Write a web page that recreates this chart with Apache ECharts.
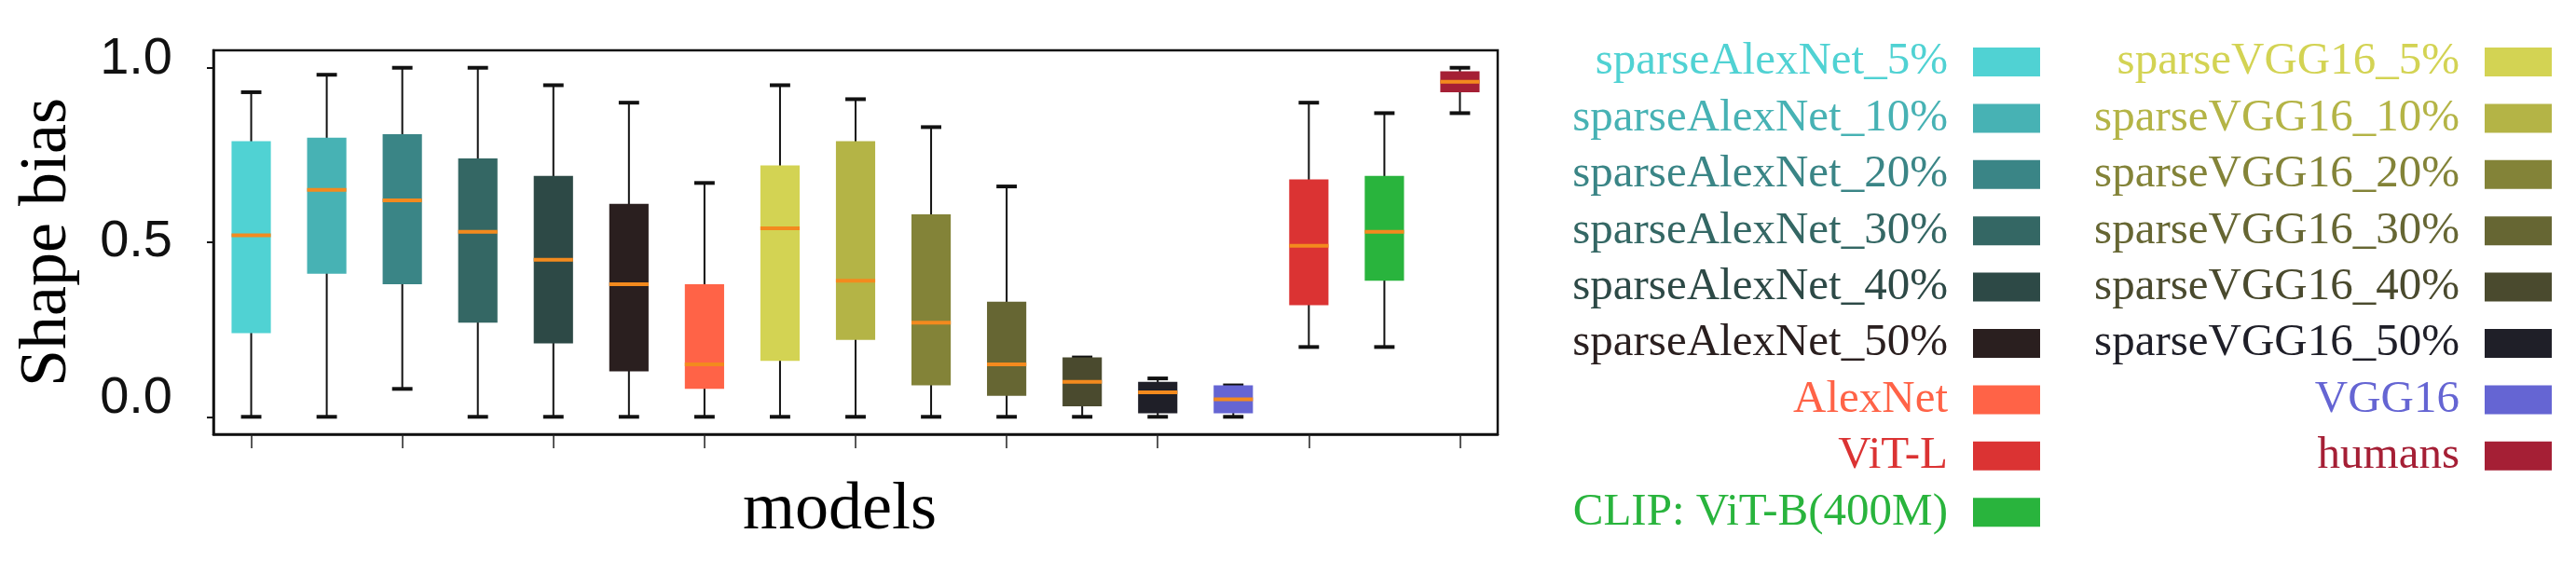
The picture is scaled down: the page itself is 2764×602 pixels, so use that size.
<!DOCTYPE html>
<html>
<head>
<meta charset="utf-8">
<title>Shape bias</title>
<script src="https://cdn.jsdelivr.net/npm/echarts@6/dist/echarts.min.js"></script>
<style>
  html, body { margin: 0; padding: 0; background: #fff; }
  #chart { width: 2764px; height: 602px; }
</style>
</head>
<body>
<div id="chart"></div>
<script>
'use strict';

// model names, in x order
var models = [
  'sparseAlexNet_5%', 'sparseAlexNet_10%', 'sparseAlexNet_20%', 'sparseAlexNet_30%',
  'sparseAlexNet_40%', 'sparseAlexNet_50%', 'AlexNet',
  'sparseVGG16_5%', 'sparseVGG16_10%', 'sparseVGG16_20%', 'sparseVGG16_30%',
  'sparseVGG16_40%', 'sparseVGG16_50%', 'VGG16',
  'ViT-L', 'CLIP: ViT-B(400M)', 'humans'
];
var colors = [
  '#50d2d3', '#47b2b4', '#3a8586', '#346764', '#2d4946', '#2a1f1f', '#ff6347',
  '#d3d353', '#b4b446', '#838338', '#666633', '#4a4a2e', '#1f1f28', '#6565d3',
  '#db3333', '#29b43d', '#a51f35'
];

// box statistics
var whiskerLow  = [0.00, 0.00, 0.08, 0.00, 0.00, 0.00, 0.00, 0.00, 0.00, 0.00, 0.00, 0.00, 0.00, 0.00, 0.20, 0.20, 0.87];
var q1          = [0.24, 0.41, 0.38, 0.27, 0.21, 0.13, 0.08, 0.16, 0.22, 0.09, 0.06, 0.03, 0.01, 0.01, 0.32, 0.39, 0.93];
var median      = [0.52, 0.65, 0.62, 0.53, 0.45, 0.38, 0.15, 0.54, 0.39, 0.27, 0.15, 0.10, 0.07, 0.05, 0.49, 0.53, 0.96];
var q3          = [0.79, 0.80, 0.81, 0.74, 0.69, 0.61, 0.38, 0.72, 0.79, 0.58, 0.33, 0.17, 0.10, 0.09, 0.68, 0.69, 0.99];
var whiskerHigh = [0.93, 0.98, 1.00, 1.00, 0.95, 0.90, 0.67, 0.95, 0.91, 0.83, 0.66, 0.17, 0.11, 0.09, 0.90, 0.87, 1.00];

var yTicks = [0, 0.5, 1.0];

// legend columns (indices into models)
var legendLeft = [0, 1, 2, 3, 4, 5, 6, 14, 15];
var legendRight = [7, 8, 9, 10, 11, 12, 13, 16];

var serif = '"Liberation Serif", "Times New Roman", serif';
var sans = '"Liberation Sans", Arial, sans-serif';

//draw one box: whiskers, caps, box and median
function renderBox(params, api) {
  var i = api.value(0);
  var lo = api.coord([i, api.value(1)]);
  var b1 = api.coord([i, api.value(2)]);
  var md = api.coord([i, api.value(3)]);
  var b3 = api.coord([i, api.value(4)]);
  var hi = api.coord([i, api.value(5)]);
  var band = api.size([1, 0])[0];
  var boxW = band * 0.52;
  var capW = band * 0.27;
  var x = md[0];
  var ink = '#111';
  return {
    type: 'group',
    children: [
      { type: 'line', shape: { x1: x, y1: hi[1], x2: x, y2: lo[1] }, style: { stroke: ink, lineWidth: 2 } },
      { type: 'line', shape: { x1: x - capW / 2, y1: hi[1], x2: x + capW / 2, y2: hi[1] }, style: { stroke: ink, lineWidth: 4 } },
      { type: 'line', shape: { x1: x - capW / 2, y1: lo[1], x2: x + capW / 2, y2: lo[1] }, style: { stroke: ink, lineWidth: 4 } },
      { type: 'rect', shape: { x: x - boxW / 2, y: b3[1], width: boxW, height: b1[1] - b3[1] }, style: { fill: api.visual('color') } },
      { type: 'line', shape: { x1: x - boxW / 2, y1: md[1], x2: x + boxW / 2, y2: md[1] }, style: { stroke: '#f38a1e', lineWidth: 4 } }
    ]
  };
}

var series = models.map(function(name, i) {
  return {
    type: 'custom',
    name: name,
    renderItem: renderBox,
    itemStyle: { color: colors[i] },
    encode: { x: 0, y: [1, 2, 3, 4, 5] },
    data: [[i, whiskerLow[i], q1[i], median[i], q3[i], whiskerHigh[i]]]
  };
});

function legendItems(idx) {
  return idx.map(function(i) {
    return { name: models[i], icon: 'rect', textStyle: { color: colors[i] } };
  });
}

function legendBlock(idx, right) {
  return {
    orient: 'vertical',
    right: right,
    top: 42,
    bottom: 0,
    align: 'right',
    padding: 0,
    itemWidth: 72,
    itemHeight: 31,
    itemGap: 11.4,
    selectedMode: false,
    textStyle: { fontFamily: serif, fontSize: 49, padding: [0, 22, 0, 0] },
    data: legendItems(idx)
  };
}

//the printed tick labels sit a little above their ticks
function yLabel(v) {
  if (v === 0) return '{low|' + v.toFixed(1) + '}';
  if (v === 1) return '{top|' + v.toFixed(1) + '}';
  return v.toFixed(1);
}

var chart = echarts.init(document.getElementById('chart'));

chart.setOption({
  backgroundColor: '#fff',
  animation: false,
  grid: {
    left: 229, right: 1157, top: 54, bottom: 136,
    show: true, borderColor: '#111', borderWidth: 2.5
  },
  legend: [legendBlock(legendLeft, 575), legendBlock(legendRight, 26)],
  xAxis: {
    type: 'category',
    data: models,
    boundaryGap: true,
    axisLine: { show: true, onZero: false, lineStyle: { color: '#111', width: 2.5 } },
    axisTick: { show: true, alignWithLabel: true, length: 15, lineStyle: { color: '#222', width: 1.5 } },
    axisLabel: { show: false },
    splitLine: { show: false },
    name: 'models',
    nameLocation: 'middle',
    nameGap: 46,
    nameTextStyle: { fontFamily: serif, fontSize: 72, color: '#000', padding: [0, 34, 0, 0] }
  },
  yAxis: {
    type: 'value',
    min: -0.05,
    max: 1.05,
    axisLine: { show: true, lineStyle: { color: '#111', width: 2.5 } },
    axisTick: { show: true, length: 7, customValues: yTicks, lineStyle: { color: '#111', width: 2 } },
    axisLabel: {
      customValues: yTicks,
      margin: 44,
      fontFamily: sans,
      fontSize: 56,
      color: '#111',
      formatter: yLabel,
      rich: {
        top: { fontFamily: sans, fontSize: 56, color: '#111', padding: [0, 0, 19, 0] },
        low: { fontFamily: sans, fontSize: 56, color: '#111', padding: [0, 0, 40, 0] }
      }
    },
    splitLine: { show: false },
    name: 'Shape bias',
    nameLocation: 'middle',
    nameGap: 142,
    nameTextStyle: { fontFamily: serif, fontSize: 72, color: '#000' }
  },
  series: series
});
</script>
</body>
</html>
